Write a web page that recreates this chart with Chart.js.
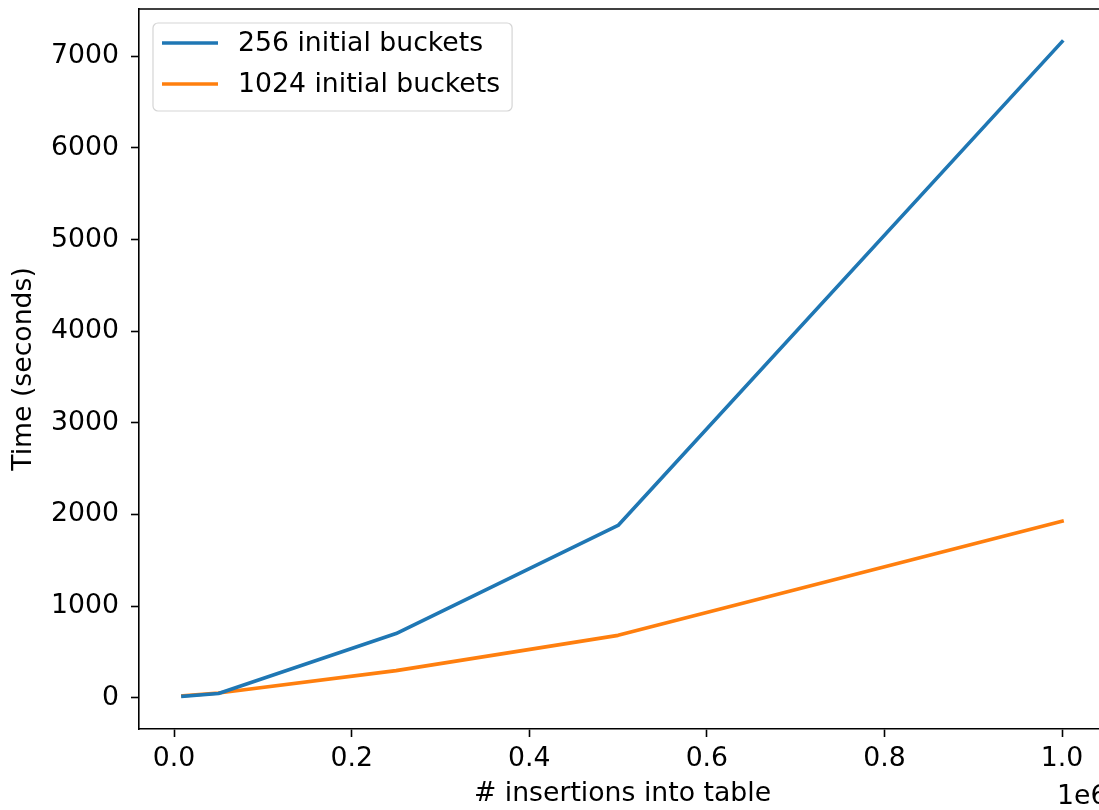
<!DOCTYPE html>
<html>
<head>
<meta charset="utf-8">
<script src="https://cdn.jsdelivr.net/npm/chart.js@4.4.1/dist/chart.umd.min.js"></script>
<style>
    html, body { margin: 0; padding: 0; background: #fff; overflow: hidden; }
    #wrap { width: 1099px; height: 810px; overflow: hidden; }
</style>
</head>
<body>
<div id="wrap"><canvas id="chart" width="1110" height="810"></canvas></div>
<script>
// dados
const insertions = [10000, 50000, 250000, 500000, 1000000];
const time256 = [15, 45, 700, 1880, 7160];
const time1024 = [20, 50, 295, 680, 1925];
const xTicks = [0, 200000, 400000, 600000, 800000, 1000000];
const yTicks = [0, 1000, 2000, 3000, 4000, 5000, 6000, 7000];

const FONT = 'DejaVu Sans';
const FONT_SIZE = 26.7;

// margens de 5% como no matplotlib
function withMargin(values) {
    const lo = Math.min(...values), hi = Math.max(...values);
    const m = (hi - lo) * 0.05;
    return [lo - m, hi + m];
}
const [xMin, xMax] = withMargin(insertions);
const [yMin, yMax] = withMargin(time256.concat(time1024));

function toPoints(ys) {
    return insertions.map((x, i) => ({ x: x, y: ys[i] }));
}

// borda superior e texto "1e6" (a borda direita fica fora da imagem)
const framePlugin = {
    id: 'frame',
    afterDraw(chart) {
        const { ctx, chartArea } = chart;
        ctx.save();
        ctx.strokeStyle = '#000';
        ctx.lineWidth = 1.6;
        ctx.beginPath();
        ctx.moveTo(chartArea.left, chartArea.top);
        ctx.lineTo(chart.width, chartArea.top);
        ctx.stroke();
        ctx.fillStyle = '#000';
        ctx.font = FONT_SIZE + 'px "' + FONT + '"';
        ctx.textAlign = 'left';
        ctx.textBaseline = 'alphabetic';
        ctx.fillText('1e6', 1057, 804);
        ctx.restore();
    }
};

// legenda no estilo matplotlib, dentro da área do gráfico
const innerLegend = {
    id: 'innerLegend',
    afterDraw(chart) {
        const { ctx, chartArea } = chart;
        const sets = chart.data.datasets;
        ctx.save();
        ctx.font = FONT_SIZE + 'px "' + FONT + '"';
        const maxW = Math.max(...sets.map(d => ctx.measureText(d.label).width));
        const left = chartArea.left + 14;
        const top = chartArea.top + 14;
        const textX = left + 85;
        const w = textX - left + maxW + 12;
        const h = 88;
        ctx.beginPath();
        ctx.roundRect(left, top, w, h, 5);
        ctx.fillStyle = 'rgba(255,255,255,0.8)';
        ctx.fill();
        ctx.strokeStyle = '#d5d5d5';
        ctx.lineWidth = 1.2;
        ctx.stroke();
        sets.forEach((d, i) => {
            const y = top + 20 + i * 41;
            ctx.beginPath();
            ctx.moveTo(left + 9, y);
            ctx.lineTo(left + 65, y);
            ctx.strokeStyle = d.borderColor;
            ctx.lineWidth = 3.6;
            ctx.stroke();
            ctx.fillStyle = '#000';
            ctx.textAlign = 'left';
            ctx.textBaseline = 'middle';
            ctx.fillText(d.label, textX, y + 1);
        });
        ctx.restore();
    }
};

const tickFont = { family: FONT, size: FONT_SIZE };

new Chart(document.getElementById('chart'), {
    type: 'line',
    data: {
        datasets: [
            {
                label: '256 initial buckets',
                data: toPoints(time256),
                borderColor: '#1f77b4',
                backgroundColor: '#1f77b4'
            },
            {
                label: '1024 initial buckets',
                data: toPoints(time1024),
                borderColor: '#ff7f0e',
                backgroundColor: '#ff7f0e'
            }
        ]
    },
    options: {
        responsive: false,
        animation: false,
        layout: { padding: { top: 9, right: 4, left: 0, bottom: 0 } },
        elements: {
            line: { borderWidth: 3.6, tension: 0, borderCapStyle: 'square', borderJoinStyle: 'round' },
            point: { radius: 0 }
        },
        scales: {
            x: {
                type: 'linear',
                min: xMin,
                max: xMax,
                afterBuildTicks: scale => { scale.ticks = xTicks.map(v => ({ value: v })); },
                afterFit: scale => {
                    scale.height = 81;
                    scale.paddingLeft = 0;
                    scale.paddingRight = 0;
                },
                ticks: {
                    font: tickFont,
                    color: '#000',
                    padding: 6,
                    maxRotation: 0,
                    callback: v => (v / 1e6).toFixed(1)
                },
                grid: { drawOnChartArea: false, drawTicks: true, tickLength: 8, tickColor: '#000', tickWidth: 1.6 },
                border: { display: true, color: '#000', width: 1.6 },
                title: { display: true, text: '# insertions into table', font: tickFont, color: '#000', padding: { top: 0, bottom: 0 } }
            },
            y: {
                type: 'linear',
                min: yMin,
                max: yMax,
                afterBuildTicks: scale => { scale.ticks = yTicks.map(v => ({ value: v })); },
                afterFit: scale => {
                    scale.width = 139;
                    scale.paddingTop = 0;
                    scale.paddingBottom = 0;
                },
                ticks: { font: tickFont, color: '#000', padding: 12, callback: v => String(v) },
                grid: { drawOnChartArea: false, drawTicks: true, tickLength: 8, tickColor: '#000', tickWidth: 1.6 },
                border: { display: true, color: '#000', width: 1.6 },
                title: { display: true, text: 'Time (seconds)', font: tickFont, color: '#000', padding: { top: 8, bottom: 0 } }
            }
        },
        plugins: {
            legend: { display: false },
            tooltip: { enabled: false }
        }
    },
    plugins: [framePlugin, innerLegend]
});
</script>
</body>
</html>
